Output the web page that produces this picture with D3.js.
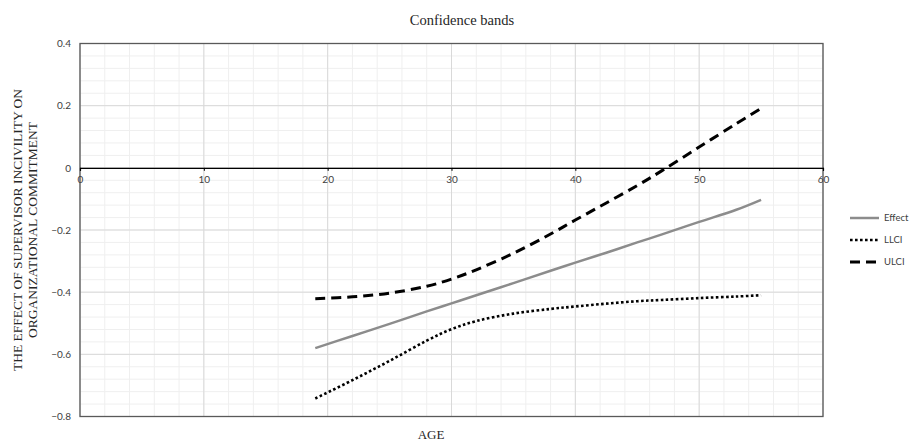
<!DOCTYPE html>
<html><head><meta charset="utf-8">
<script src="https://cdn.jsdelivr.net/npm/d3@7"></script>
<style>body{margin:0;background:#fff}svg{display:block}</style>
</head><body>
<script>
const ages = [19, 22, 25, 28, 30, 32, 35, 38, 40, 42.5, 45, 47, 50, 53, 55];
const effect = [-0.58, -0.541, -0.502, -0.462, -0.436, -0.41, -0.371, -0.331, -0.305, -0.273, -0.24, -0.214, -0.174, -0.135, -0.103];
const llci = [-0.742, -0.683, -0.621, -0.556, -0.519, -0.493, -0.469, -0.454, -0.446, -0.437, -0.429, -0.425, -0.419, -0.414, -0.41];
const ulci = [-0.421, -0.415, -0.403, -0.381, -0.358, -0.328, -0.275, -0.213, -0.168, -0.113, -0.057, -0.009, 0.067, 0.142, 0.191];
const xTicks = [0, 10, 20, 30, 40, 50, 60];
const yTicks = [0.4, 0.2, 0, -0.2, -0.4, -0.6, -0.8];
const seriesNames = ["Effect", "LLCI", "ULCI"];

const W = 910, H = 442;
const L = 80, R = 823, T = 43.5, B = 416.5;
const svg = d3.select("body").append("svg").attr("width", W).attr("height", H);
const x = d3.scaleLinear().domain([0, 60]).range([L, R]);
const y = d3.scaleLinear().domain([-0.8, 0.4]).range([B, T]);

// minor grid
const g = svg.append("g");
g.selectAll(".mx").data(d3.range(0, 61, 2)).enter().append("line")
  .attr("x1", d => x(d)).attr("x2", d => x(d)).attr("y1", T).attr("y2", B)
  .attr("stroke", "#efefef").attr("stroke-width", 1);
g.selectAll(".my").data(d3.range(-20, 11).map(i => i * 0.04)).enter().append("line")
  .attr("y1", d => y(d)).attr("y2", d => y(d)).attr("x1", L).attr("x2", R)
  .attr("stroke", "#efefef").attr("stroke-width", 1);
// major grid
g.selectAll(".Mx").data(xTicks).enter().append("line")
  .attr("x1", d => x(d)).attr("x2", d => x(d)).attr("y1", T).attr("y2", B)
  .attr("stroke", "#d9d9d9").attr("stroke-width", 1);
g.selectAll(".My").data(yTicks).enter().append("line")
  .attr("y1", d => y(d)).attr("y2", d => y(d)).attr("x1", L).attr("x2", R)
  .attr("stroke", "#d9d9d9").attr("stroke-width", 1);

// plot box
svg.append("rect").attr("x", L).attr("y", T).attr("width", R - L).attr("height", B - T)
  .attr("fill", "none").attr("stroke", "#595959").attr("stroke-width", 1.3);

// x axis at zero
const xAxis = d3.axisBottom(x).tickValues(xTicks).tickSize(3).tickFormat(d3.format("d"));
const xa = svg.append("g").attr("transform", `translate(0,${y(0)})`).call(xAxis);
xa.select(".domain").attr("stroke", "#000").attr("stroke-width", 1.2);
xa.selectAll(".tick line").attr("stroke", "#000");
xa.selectAll("text").attr("font-family", "Lato, 'Open Sans', sans-serif").attr("font-size", 10).attr("fill", "#404040").attr("dy", "0.75em").attr("y", 8);

// y axis labels
const yAxis = d3.axisLeft(y).tickValues(yTicks).tickSize(0).tickPadding(9).tickFormat(d => d === 0 ? "0" : d3.format(".1f")(d));
const ya = svg.append("g").attr("transform", `translate(${L},0)`).call(yAxis);
ya.select(".domain").remove();
ya.selectAll("text").attr("font-family", "Lato, 'Open Sans', sans-serif").attr("font-size", 10).attr("fill", "#404040");

// lines
const data = ages.map((a, i) => ({a, e: effect[i], l: llci[i], u: ulci[i]}));
const mk = key => d3.line().x(d => x(d.a)).y(d => y(d[key])).curve(d3.curveCatmullRom.alpha(0.5));
svg.append("path").datum(data).attr("d", mk("e")).attr("fill", "none")
  .attr("stroke", "#8c8c8c").attr("stroke-width", 2.5);
svg.append("path").datum(data).attr("d", mk("l")).attr("fill", "none")
  .attr("stroke", "#000").attr("stroke-width", 2.6).attr("stroke-dasharray", "2.6,2.4");
svg.append("path").datum(data).attr("d", mk("u")).attr("fill", "none")
  .attr("stroke", "#000").attr("stroke-width", 3).attr("stroke-dasharray", "10,6");

// title
svg.append("text").attr("x", 462).attr("y", 25).attr("text-anchor", "middle")
  .attr("font-family", "'Liberation Serif', serif").attr("font-size", 14.5).attr("fill", "#262626")
  .text("Confidence bands");
// x title
svg.append("text").attr("x", 431).attr("y", 439).attr("text-anchor", "middle")
  .attr("font-family", "'Liberation Serif', serif").attr("font-size", 13).attr("fill", "#262626")
  .text("AGE");
// y title
const yt = svg.append("text").attr("transform", `translate(22,${(T + B) / 2}) rotate(-90)`)
  .attr("text-anchor", "middle").attr("font-family", "'Liberation Serif', serif")
  .attr("font-size", 13.5).attr("fill", "#262626");
yt.append("tspan").attr("x", 0).attr("y", 0).text("THE EFFECT OF SUPERVISOR INCIVILITY ON");
yt.append("tspan").attr("x", 0).attr("y", 15).text("ORGANIZATIONAL COMMITMENT");

// legend
const styles = [
  {c: "#8c8c8c", w: 2.5, d: null},
  {c: "#000", w: 2.6, d: "2.6,2.4"},
  {c: "#000", w: 3, d: "10,6"}
];
const leg = svg.append("g");
seriesNames.forEach((n, i) => {
  const yy = 218 + i * 22;
  leg.append("line").attr("x1", 850).attr("x2", 879).attr("y1", yy).attr("y2", yy)
    .attr("stroke", styles[i].c).attr("stroke-width", styles[i].w)
    .attr("stroke-dasharray", styles[i].d);
  leg.append("text").attr("x", 884).attr("y", yy).attr("dy", "0.35em")
    .attr("font-family", "Lato, 'Open Sans', sans-serif").attr("font-size", 9.5).attr("fill", "#404040")
    .text(n);
});
</script>
</body></html>
